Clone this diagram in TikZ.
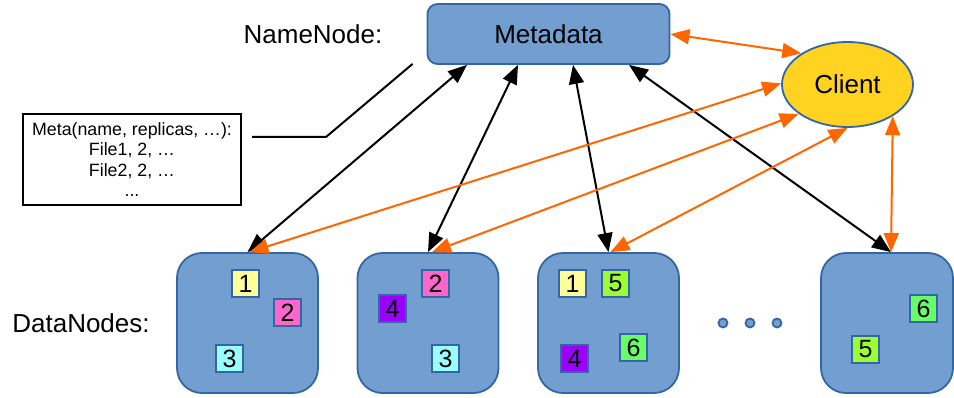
\documentclass[tikz,border=0pt]{standalone}
\usepackage{fontspec}
\setmainfont{Liberation Sans}
\usetikzlibrary{arrows.meta,shapes.geometric}
\definecolor{boxfill}{HTML}{729FCF}
\definecolor{boxdraw}{HTML}{3465A4}
\definecolor{clientfill}{HTML}{FFD320}
\definecolor{orng}{HTML}{FF6600}
\definecolor{cyel}{HTML}{FFFF99}
\definecolor{cpink}{HTML}{FF66CC}
\definecolor{ccyan}{HTML}{99FFFF}
\definecolor{cpurp}{HTML}{9900FF}
\definecolor{clime}{HTML}{99FF33}
\definecolor{cgreen}{HTML}{66FF66}
\begin{document}
\begin{tikzpicture}[x=1pt,y=-1pt,
  bigtext/.style={font=\fontsize{26}{30}\selectfont},
  metabox/.style={draw=boxdraw,fill=boxfill,line width=1.8pt,rounded corners=10pt,minimum width=242pt,minimum height=60pt,inner sep=0pt,bigtext},
  dnbox/.style={draw=boxdraw,fill=boxfill,line width=1.8pt,rounded corners=25pt,minimum height=140pt,inner sep=0pt},
  blk/.style={draw=boxdraw,line width=1.6pt,minimum size=27pt,inner sep=0pt,font=\fontsize{25}{28}\selectfont},
  dot/.style={circle,draw=boxdraw,fill=boxfill,line width=1.8pt,minimum size=9pt,inner sep=0pt},
  barr/.style={line width=2pt,black,{Triangle[length=19pt,width=15pt]}-{Triangle[length=19pt,width=15pt]}},
  oarr/.style={line width=2pt,orng,{Triangle[length=19pt,width=15pt]}-{Triangle[length=19pt,width=15pt]}}
]
\useasboundingbox (0,0) rectangle (954,398);
% labels
\node[bigtext] (nnlabel) at (313,34) {NameNode:};
\node[bigtext] (dnlabel) at (81,323) {DataNodes:};
% metadata
\node[metabox] (meta) at (548.5,34) {Metadata};
% client
\node[ellipse,draw=boxdraw,fill=clientfill,line width=1.8pt,minimum width=131pt,minimum height=85pt,inner sep=0pt,bigtext] (client) at (847.5,84.5) {Client};
% meta info box
\node[draw,line width=2pt,minimum width=218pt,minimum height=91pt,inner sep=0pt,align=center,font=\fontsize{17.8}{20.5}\selectfont] (info) at (132,159.5)
 {Meta(name, replicas, …):\\File1, 2, …\\File2, 2, …\\...};
% data nodes
\node[dnbox,minimum width=141pt] (dn1) at (247.5,323) {};
\node[dnbox,minimum width=141pt] (dn2) at (428,323) {};
\node[dnbox,minimum width=141pt] (dn3) at (608.5,323) {};
\node[dnbox,minimum width=132pt] (dn4) at (887,323) {};
% blocks
\node[blk,fill=cyel] (b11) at (245.5,283.5) {1};
\node[blk,fill=cpink] (b12) at (287.5,312.5) {2};
\node[blk,fill=ccyan] (b13) at (229.5,358.5) {3};
\node[blk,fill=cpink] (b22) at (435.5,283.5) {2};
\node[blk,fill=cpurp] (b24) at (392.5,308.5) {4};
\node[blk,fill=ccyan] (b23) at (445.5,358.5) {3};
\node[blk,fill=cyel] (b31) at (572.5,283.5) {1};
\node[blk,fill=clime] (b35) at (615.5,283.5) {5};
\node[blk,fill=cpurp] (b34) at (574.5,358.5) {4};
\node[blk,fill=cgreen] (b36) at (633.5,347.5) {6};
\node[blk,fill=cgreen] (b46) at (923.5,308.5) {6};
\node[blk,fill=clime] (b45) at (865.5,349.5) {5};
% dots
\node[dot] (d1) at (723,323) {};
\node[dot] (d2) at (750,323) {};
\node[dot] (d3) at (777,323) {};
% info connector
\draw[line width=2pt] ([xshift=10pt,yshift=22.5pt]info.east) -- ++(74,0) -- ([xshift=-14pt,yshift=1pt]meta.south west);
% black arrows
\draw[barr] (dn1.north) -- ([xshift=-81.5pt]meta.south);
\draw[barr] (dn2.north) -- ([xshift=-30.5pt]meta.south);
\draw[barr] (dn3.north) -- ([xshift=24.5pt]meta.south);
\draw[barr] ([xshift=4pt]dn4.north) -- ([xshift=80.5pt]meta.south);
% orange arrows
\draw[oarr] (meta.east) -- (client.146);
\draw[oarr] ([xshift=2pt]dn1.north) -- (client.179);
\draw[oarr] ([xshift=4pt]dn2.north) -- (client.211);
\draw[oarr] ([xshift=2pt]dn3.north) -- (client.270);
\draw[oarr] ([xshift=4pt]dn4.north) -- (client.325);
\end{tikzpicture}
\end{document}
